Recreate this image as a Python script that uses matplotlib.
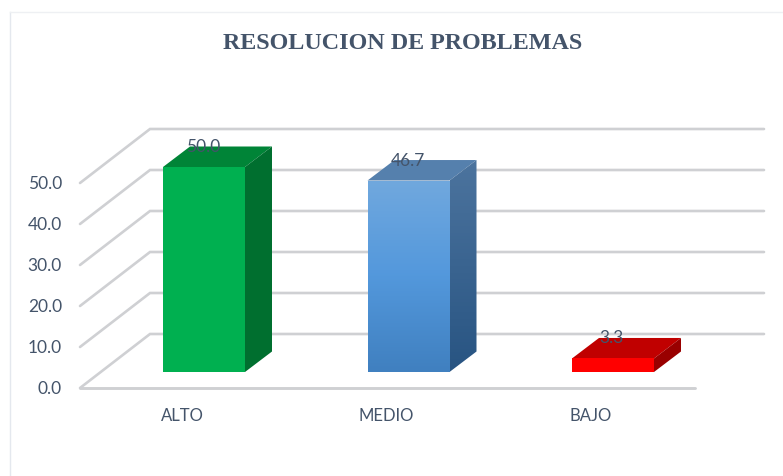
#!/usr/bin/env python3
"""RESOLUCION DE PROBLEMAS: fake 3D column chart on a matplotlib axes."""

import numpy as np
import matplotlib
matplotlib.use("Agg")
import matplotlib.pyplot as plt
from matplotlib.patches import Polygon

categories = ["ALTO", "MEDIO", "BAJO"]
values = [50.0, 46.7, 3.3]
y_ticks = [0, 10, 20, 30, 40, 50]

FRONT = {"ALTO": "#00b050", "MEDIO": None, "BAJO": "#ff0000"}
TOP = {"ALTO": "#008437", "MEDIO": "#5580ad", "BAJO": "#c00000"}
SIDE = {"ALTO": "#006f2f", "MEDIO": None, "BAJO": "#990000"}
TEXT = "#44546a"
GRID = "#cfd0d3"

W, H = 783, 477
PX_X = 204.5  # pixels per category
PX_Y = 4.1    # pixels per value unit
X0_PX, Y0_PX = 204, 389

fig = plt.figure(figsize=(W / 100, H / 100), dpi=100)
ax = fig.add_axes([0, 0, 1, 1])
xlim = (-X0_PX / PX_X, (W - X0_PX) / PX_X)
ylim = ((Y0_PX - H) / PX_Y, Y0_PX / PX_Y)


def dxp(px):
    return px / PX_X


def dyp(px):
    return px / PX_Y


# back wall offset, floor edges and gridlines
back_dx, back_dy = dxp(70), dyp(54)
left = dxp(80 - X0_PX)
floor_right = dxp(695 - X0_PX)
wall_right = dxp(764 - X0_PX)
for v in y_ticks:
    ax.plot([left, left + back_dx, wall_right], [v, v + back_dy, v + back_dy],
            color=GRID, lw=1.9, solid_capstyle="round", solid_joinstyle="miter", zorder=1)
    ax.text(dxp(62 - X0_PX), v, f"{v:.1f}", ha="right", va="center",
            fontsize=12.5, color=TEXT, family="Lato", zorder=6)
ax.plot([left, floor_right], [0, 0], color=GRID, lw=2.1, solid_capstyle="round", zorder=1)

# bars, offset into the floor
half = dxp(41)
lift = dyp(16)
depth_x, depth_y = dxp(27), dyp(20.5)
front_blue = np.array([[112, 168, 222], [83, 152, 220], [64, 128, 192]]) / 255
side_blue = np.array([[76, 116, 158], [40, 84, 130]]) / 255


def gradient(poly, colors, extent):
    stops = np.linspace(0, 1, len(colors))
    pos = np.linspace(0, 1, 64)
    grad = np.stack([np.interp(pos, stops, colors[:, c]) for c in range(3)], axis=1)[:, None, :]
    im = ax.imshow(grad, extent=extent, origin="upper", aspect="auto", zorder=3)
    patch = Polygon(poly, closed=True, transform=ax.transData, fc="none", ec="none")
    ax.add_patch(patch)
    im.set_clip_path(patch)


for i, (cat, val) in enumerate(zip(categories, values)):
    x1, x2 = i - half, i + half
    y1, y2 = lift, lift + val
    front = [(x1, y1), (x2, y1), (x2, y2), (x1, y2)]
    top = [(x1, y2), (x2, y2), (x2 + depth_x, y2 + depth_y), (x1 + depth_x, y2 + depth_y)]
    side = [(x2, y1), (x2 + depth_x, y1 + depth_y), (x2 + depth_x, y2 + depth_y), (x2, y2)]
    ax.add_patch(Polygon(top, closed=True, fc=TOP[cat], ec="none", zorder=3))
    if FRONT[cat]:
        ax.add_patch(Polygon(front, closed=True, fc=FRONT[cat], ec="none", zorder=3))
        ax.add_patch(Polygon(side, closed=True, fc=SIDE[cat], ec="none", zorder=3))
    else:
        gradient(front, front_blue, (x1, x2, y1, y2))
        gradient(side, side_blue, (x2, x2 + depth_x, y1, y2 + depth_y))
    ax.text(i - half + dxp(40), y2 + dyp(21), f"{val:.1f}", ha="center", va="center",
            fontsize=12.5, color=TEXT, family="Lato", zorder=5)
    ax.text(i - dxp(22), dyp(-27), cat, ha="center", va="center",
            fontsize=12, color=TEXT, family="Lato", zorder=5)

ax.set_xlim(*xlim)
ax.set_ylim(*ylim)
ax.axis("off")

# faint chart frame
fig.add_artist(plt.Line2D([9.5 / W, 9.5 / W], [0, 1 - 13 / H], color="#e4e8ee", lw=1))
fig.add_artist(plt.Line2D([9.5 / W, 1], [1 - 13 / H, 1 - 13 / H], color="#eef0f3", lw=1))

fig.text(402.5 / W, 1 - 43.5 / H, "RESOLUCION DE PROBLEMAS", ha="center", va="center",
         fontsize=17.35, fontweight="bold", color=TEXT, family="Liberation Serif")

fig.savefig("out.png", dpi=100)
